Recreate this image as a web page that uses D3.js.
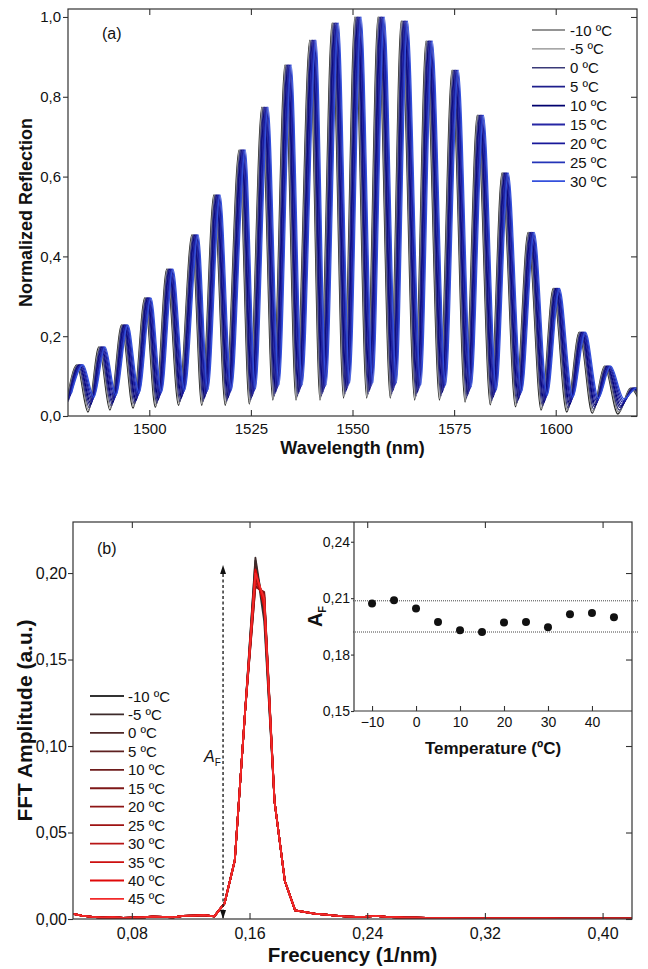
<!DOCTYPE html>
<html>
<head>
<meta charset="utf-8">
<script src="https://cdn.jsdelivr.net/npm/d3@7"></script>
<style>
  body { margin: 0; background: #fff; }
  text { font-family: "Liberation Sans", Arial, sans-serif; fill: #111; }
  .frame { fill: none; stroke: #333; stroke-width: 1.2; }
  .axis line { stroke: #333; stroke-width: 1.1; }
  .axis path { display: none; }
</style>
</head>
<body>
<svg id="chart" width="648" height="969"></svg>
<script>
// ---------- panel (a): reflection spectra ----------
const tempsA = [-10, -5, 0, 5, 10, 15, 20, 25, 30];
const colorsA = ['#2b2b2b', '#8a8a8a', '#3a3a78', '#1e1e8c', '#00006e', '#2626a4', '#18189a', '#2434b8', '#3450dc'];
const widthsA = [1.2, 1.2, 1.5, 1.8, 1.8, 1.8, 1.8, 1.8, 1.8];
// fringe maxima / minima of the -10 ºC spectrum
const peakWl = [1482.2, 1487.6, 1493.2, 1498.9, 1504.3, 1510.5, 1515.9, 1522.1, 1527.7, 1533.4, 1539.5, 1545.0,
  1550.6, 1556.3, 1562.0, 1568.1, 1574.5, 1580.7, 1586.8, 1593.2, 1599.4, 1605.8, 1612.0, 1618.4];
const peakVal = [0.128, 0.173, 0.228, 0.296, 0.368, 0.454, 0.554, 0.667, 0.774, 0.88, 0.942, 0.985,
  1.0, 1.0, 0.99, 0.94, 0.867, 0.754, 0.609, 0.46, 0.32, 0.21, 0.125, 0.07];
const valleyWl = [1479.4, 1484.9, 1490.3, 1496.0, 1501.5, 1507.2, 1512.9, 1518.7, 1524.6, 1530.4, 1536.1, 1542.0,
  1547.8, 1553.5, 1559.3, 1565.3, 1571.4, 1577.7, 1583.9, 1590.1, 1596.4, 1602.7, 1609.0, 1615.3, 1621.6];
const valleyVal = [0.02, 0.01, 0.015, 0.02, 0.022, 0.027, 0.027, 0.027, 0.03, 0.04, 0.04, 0.04,
  0.045, 0.045, 0.045, 0.04, 0.04, 0.035, 0.028, 0.023, 0.015, 0.01, 0.007, 0.005, 0.01];
// red shift (nm) and minimum lift of each temperature relative to -10 ºC
const shiftA = [0, 0.17, 0.36, 0.55, 0.74, 0.92, 1.1, 1.3, 1.5];
const liftA = [0, 0.005, 0.01, 0.016, 0.02, 0.025, 0.03, 0.034, 0.038];
const wlTicks = [1500, 1525, 1550, 1575, 1600];
const reflTicks = [0, 0.2, 0.4, 0.6, 0.8, 1.0];

// ---------- panel (b): FFT ----------
const tempsB = [-10, -5, 0, 5, 10, 15, 20, 25, 30, 35, 40, 45];
const colorsB = ['#333333', '#3d2b2b', '#4d2626', '#5e2020', '#6e1c1c', '#7e1818', '#8e1515', '#9e1212',
  '#b81616', '#cc0f0f', '#e00808', '#f22a2a'];
const fftFreq = [0.040, 0.046, 0.053, 0.060, 0.067, 0.074, 0.081, 0.088, 0.094, 0.101, 0.108, 0.115, 0.122, 0.129,
  0.136, 0.143, 0.150, 0.157, 0.164, 0.170, 0.177, 0.184, 0.191, 0.198, 0.205, 0.212, 0.218, 0.225, 0.232, 0.239,
  0.246, 0.253, 0.260, 0.266, 0.273, 0.280, 0.294, 0.307, 0.321, 0.335, 0.348, 0.362, 0.376, 0.389, 0.403, 0.417, 0.424];
// shared amplitude; null = peak / shoulder bins given per temperature below
const fftAmp = [0.003, 0.002, 0.0012, 0.0008, 0.001, 0.0006, 0.0008, 0.001, 0.0014, 0.0012, 0.001, 0.0018, 0.002, 0.0022,
  0.0015, 0.009, 0.034, 0.12, null, null, 0.068, 0.022, 0.005, 0.004, 0.003, 0.0025, 0.002, 0.0015, 0.0012, 0.0014,
  0.0018, 0.0012, 0.001, 0.0008, 0.0008, 0.0006, 0.0005, 0.0004, 0.0004, 0.0003, 0.0003, 0.0003, 0.0002, 0.0002, 0.0002, 0.0002, 0.0002];
const peakAmp = [0.2072, 0.2089, 0.2045, 0.1973, 0.1929, 0.192, 0.197, 0.1973, 0.1946, 0.2014, 0.2021, 0.1998];
const shoulderAmp = [0.172, 0.176, 0.180, 0.186, 0.188, 0.189, 0.186, 0.184, 0.187, 0.182, 0.180, 0.185];
const freqTicks = [0.08, 0.16, 0.24, 0.32, 0.40];
const ampTicks = [0, 0.05, 0.10, 0.15, 0.20];
const arrowFreq = 0.142;
const arrowTop = 0.204;

// ---------- inset ----------
const afTicks = [0.15, 0.18, 0.21, 0.24];
const tTicks = [-10, 0, 10, 20, 30, 40];
const afBand = [0.2086, 0.192];

const comma = (f) => (d) => d3.format(f)(d).replace('.', ',');
const svg = d3.select('#chart');

svg.append('defs').append('marker')
  .attr('id', 'arr')
  .attr('viewBox', '0 -4 9 8')
  .attr('refX', 8).attr('refY', 0)
  .attr('markerWidth', 9).attr('markerHeight', 8)
  .attr('markerUnits', 'userSpaceOnUse')
  .attr('orient', 'auto-start-reverse')
  .append('path').attr('d', 'M0,-3L9,0L0,3Z').attr('fill', '#111');

/* ===== panel (a) ===== */
const A = { left: 68, right: 637, top: 9, bottom: 416 };
const xA = d3.scaleLinear().domain([1480, 1620]).range([A.left, A.right]);
const yA = d3.scaleLinear().domain([0, 1.02]).range([A.bottom, A.top]);

svg.append('clipPath').attr('id', 'clipA').append('rect')
  .attr('x', A.left).attr('y', A.top).attr('width', A.right - A.left).attr('height', A.bottom - A.top);

const lineA = d3.line().x((d) => xA(d[0])).y((d) => yA(d[1])).curve(d3.curveMonotoneX);
const gA = svg.append('g').attr('clip-path', 'url(#clipA)');
tempsA.forEach((t, i) => {
  const pts = [];
  valleyWl.forEach((w, k) => {
    pts.push([w + shiftA[i], valleyVal[k] + liftA[i]]);
    if (k < peakWl.length) pts.push([peakWl[k] + shiftA[i], peakVal[k]]);
  });
  gA.append('path').datum(pts)
    .attr('d', lineA)
    .attr('fill', 'none')
    .attr('stroke', colorsA[i])
    .attr('stroke-width', 1.3);
});

svg.append('g').attr('class', 'axis').attr('transform', `translate(0,${A.bottom})`)
  .call(d3.axisBottom(xA).tickValues(wlTicks).tickSize(-6).tickPadding(7).tickFormat(d3.format('d')))
  .selectAll('text').style('font-size', '15px');
svg.append('g').attr('class', 'axis').attr('transform', `translate(0,${A.top})`)
  .call(d3.axisTop(xA).tickValues(wlTicks).tickSize(-6).tickFormat(''));
svg.append('g').attr('class', 'axis').attr('transform', `translate(${A.left},0)`)
  .call(d3.axisLeft(yA).tickValues(reflTicks).tickSize(5).tickPadding(2).tickFormat(comma('.1f')))
  .selectAll('text').style('font-size', '15px');
svg.append('g').attr('class', 'axis').attr('transform', `translate(${A.right},0)`)
  .call(d3.axisRight(yA).tickValues(reflTicks).tickSize(-6).tickFormat(''));
svg.append('rect').attr('class', 'frame')
  .attr('x', A.left).attr('y', A.top).attr('width', A.right - A.left).attr('height', A.bottom - A.top);

svg.append('text').attr('x', 102).attr('y', 39).style('font-size', '16px').text('(a)');
svg.append('text').attr('x', (A.left + A.right) / 2).attr('y', 454)
  .attr('text-anchor', 'middle').style('font-size', '18px').style('font-weight', 'bold').text('Wavelength (nm)');
svg.append('text').attr('transform', `translate(32,${(A.top + A.bottom) / 2}) rotate(-90)`)
  .attr('text-anchor', 'middle').style('font-size', '18px').style('font-weight', 'bold').text('Normalized Reflection');

const legA = svg.append('g');
tempsA.forEach((t, i) => {
  const y = 30 + i * 18.9;
  legA.append('line').attr('x1', 532).attr('x2', 565).attr('y1', y).attr('y2', y)
    .attr('stroke', colorsA[i]).attr('stroke-width', widthsA[i]);
  legA.append('text').attr('x', 570).attr('y', y + 5.5).style('font-size', '15px').text(`${t} ºC`);
});

/* ===== panel (b) ===== */
const B = { left: 73, right: 632, top: 522, bottom: 919 };
const xB = d3.scaleLinear().domain([0.04, 0.42]).range([B.left, B.right]);
const yB = d3.scaleLinear().domain([0, 0.2295]).range([B.bottom, B.top]);

svg.append('clipPath').attr('id', 'clipB').append('rect')
  .attr('x', B.left).attr('y', B.top).attr('width', B.right - B.left).attr('height', B.bottom - B.top);

const lineB = d3.line().x((d) => xB(d[0])).y((d) => yB(d[1]));
const gB = svg.append('g').attr('clip-path', 'url(#clipB)');
tempsB.forEach((t, i) => {
  const pts = fftFreq.map((f, k) => {
    let a = fftAmp[k];
    if (k === 18) a = peakAmp[i];
    if (k === 19) a = shoulderAmp[i];
    return [f, a];
  });
  gB.append('path').datum(pts)
    .attr('d', lineB)
    .attr('fill', 'none')
    .attr('stroke', colorsB[i])
    .attr('stroke-width', 1.8)
    .attr('stroke-linejoin', 'round');
});

svg.append('g').attr('class', 'axis').attr('transform', `translate(0,${B.bottom})`)
  .call(d3.axisBottom(xB).tickValues(freqTicks).tickSize(-6).tickPadding(9).tickFormat(comma('.2f')))
  .selectAll('text').style('font-size', '16px');
svg.append('g').attr('class', 'axis').attr('transform', `translate(0,${B.top})`)
  .call(d3.axisTop(xB).tickValues(freqTicks).tickSize(-6).tickFormat(''));
svg.append('g').attr('class', 'axis').attr('transform', `translate(${B.left},0)`)
  .call(d3.axisLeft(yB).tickValues(ampTicks).tickSize(5).tickPadding(1).tickFormat(comma('.2f')))
  .selectAll('text').style('font-size', '16px');
svg.append('g').attr('class', 'axis').attr('transform', `translate(${B.right},0)`)
  .call(d3.axisRight(yB).tickValues(ampTicks).tickSize(-6).tickFormat(''));
svg.append('rect').attr('class', 'frame')
  .attr('x', B.left).attr('y', B.top).attr('width', B.right - B.left).attr('height', B.bottom - B.top);

// A_F arrow
svg.append('line')
  .attr('x1', xB(arrowFreq)).attr('x2', xB(arrowFreq))
  .attr('y1', yB(0) - 1).attr('y2', yB(arrowTop))
  .attr('stroke', '#111').attr('stroke-width', 1.3).attr('stroke-dasharray', '3,2.5')
  .attr('marker-start', 'url(#arr)').attr('marker-end', 'url(#arr)');
const af = svg.append('text').attr('x', 204).attr('y', 762).style('font-size', '16px').style('font-style', 'italic');
af.append('tspan').text('A');
af.append('tspan').attr('dy', 4).style('font-size', '10px').style('font-style', 'normal').text('F');

svg.append('text').attr('x', 97).attr('y', 554).style('font-size', '16px').text('(b)');
svg.append('text').attr('x', (B.left + B.right) / 2).attr('y', 962)
  .attr('text-anchor', 'middle').style('font-size', '20.5px').style('font-weight', 'bold').text('Frecuency (1/nm)');
svg.append('text').attr('transform', `translate(32,${(B.top + B.bottom) / 2}) rotate(-90)`)
  .attr('text-anchor', 'middle').style('font-size', '21px').style('font-weight', 'bold').text('FFT Amplitude (a.u.)');

const legB = svg.append('g');
tempsB.forEach((t, i) => {
  const y = 696 + i * 18.45;
  legB.append('line').attr('x1', 90).attr('x2', 124).attr('y1', y).attr('y2', y)
    .attr('stroke', colorsB[i]).attr('stroke-width', 1.8);
  legB.append('text').attr('x', 128).attr('y', y + 5.5).style('font-size', '15px').text(`${t} ºC`);
});

/* ===== inset ===== */
const I = { left: 354, right: 632, top: 522, bottom: 711 };
const xI = d3.scaleLinear().domain([-14.1, 49.1]).range([I.left, I.right]);
const yI = d3.scaleLinear().domain([0.15, 0.2505]).range([I.bottom, I.top]);

svg.append('g').attr('class', 'axis').attr('transform', `translate(0,${I.bottom})`)
  .call(d3.axisBottom(xI).tickValues(tTicks).tickSize(-5).tickPadding(6))
  .selectAll('text').style('font-size', '14px');
svg.append('g').attr('class', 'axis').attr('transform', `translate(${I.left},0)`)
  .call(d3.axisLeft(yI).tickValues(afTicks).tickSize(3).tickPadding(1).tickFormat(comma('.2f')))
  .selectAll('text').style('font-size', '14px');
svg.append('line').attr('x1', I.left).attr('x2', I.left).attr('y1', I.top).attr('y2', I.bottom)
  .attr('stroke', '#333').attr('stroke-width', 1.2);
svg.append('line').attr('x1', I.left).attr('x2', I.right).attr('y1', I.bottom).attr('y2', I.bottom)
  .attr('stroke', '#333').attr('stroke-width', 1.2);

afBand.forEach((v) => {
  svg.append('line').attr('x1', I.left - 1).attr('x2', 638).attr('y1', yI(v)).attr('y2', yI(v))
    .attr('stroke', '#444').attr('stroke-width', 1).attr('stroke-dasharray', '1,1');
});

svg.append('g').selectAll('circle')
  .data(tempsB.map((t, i) => [t, peakAmp[i]]))
  .join('circle')
  .attr('cx', (d) => xI(d[0]))
  .attr('cy', (d) => yI(d[1]))
  .attr('r', 4)
  .attr('fill', '#111');

svg.append('text').attr('x', (I.left + I.right) / 2).attr('y', 754)
  .attr('text-anchor', 'middle').style('font-size', '17px').style('font-weight', 'bold').text('Temperature (ºC)');
const afY = svg.append('text').attr('transform', `translate(322,${(I.top + I.bottom) / 2}) rotate(-90)`)
  .attr('text-anchor', 'middle').style('font-size', '20px').style('font-weight', 'bold');
afY.append('tspan').text('A');
afY.append('tspan').attr('dy', 4).style('font-size', '11px').text('F');
</script>
</body>
</html>
